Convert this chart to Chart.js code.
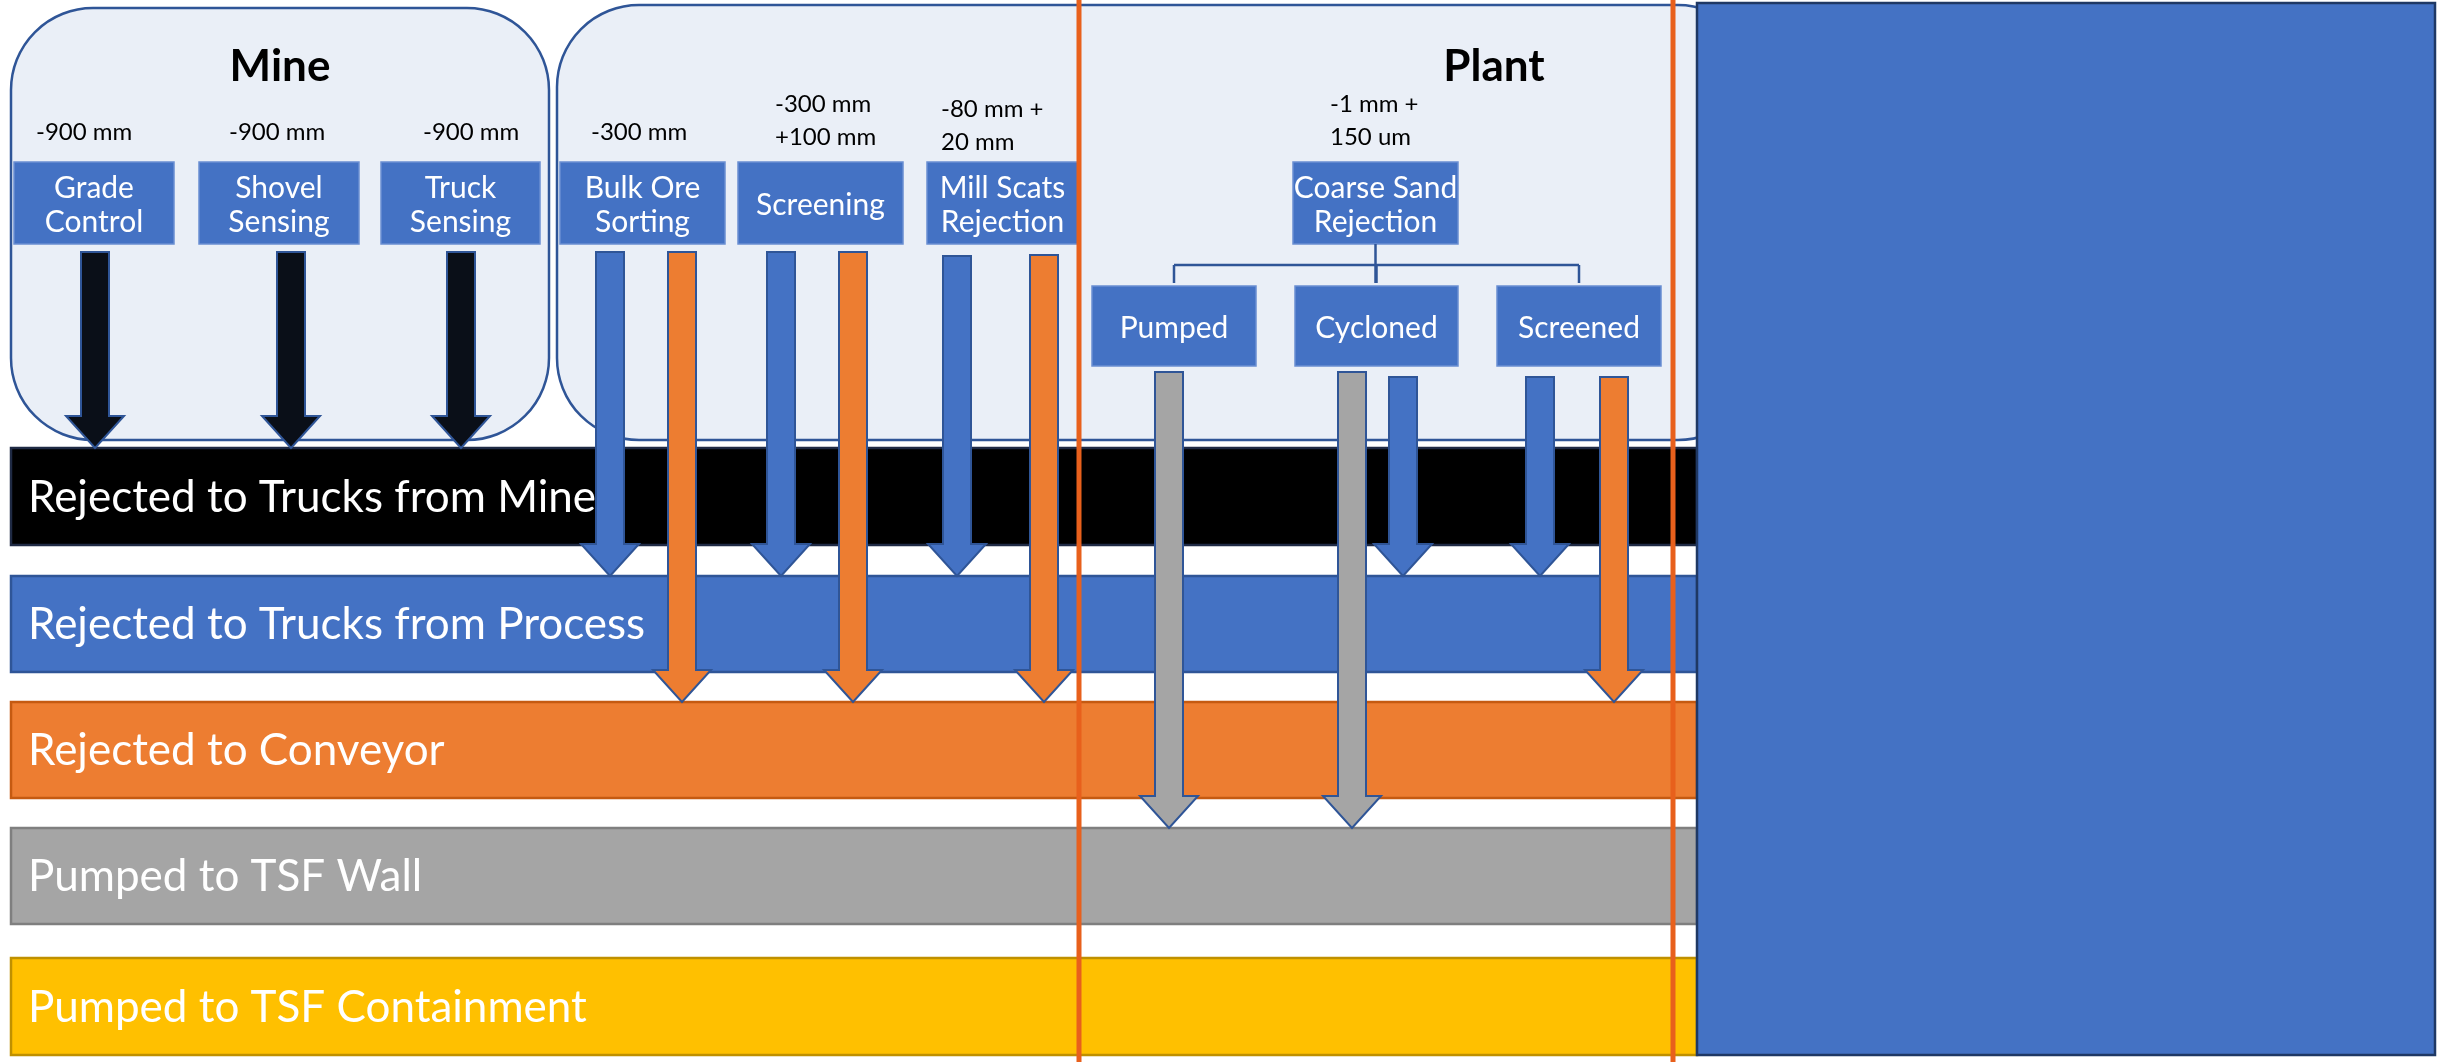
<!DOCTYPE html>
<html>
<head>
<meta charset="utf-8">
<script src="https://cdn.jsdelivr.net/npm/chart.js@4.4.1/dist/chart.umd.min.js"></script>
<style>
  html, body { margin: 0; padding: 0; background: #fff; overflow: hidden; }
  canvas { display: block; }
</style>
</head>
<body>
<canvas id="graph" width="2440" height="1062"></canvas>
<script>
// diagram units: x 0..2440, y 0..1062 (top down)

// groups (rounded panels)
const groupNames = ['Mine', 'Plant'];
const groupLeft = [11, 557];
const groupRight = [549, 1760];
const groupTop = [8, 5];
const groupBottom = [440, 440];
const groupTitleX = [280, 1494];

// sorting steps
const stepNames = [
  ['Grade', 'Control'], ['Shovel', 'Sensing'], ['Truck', 'Sensing'],
  ['Bulk Ore', 'Sorting'], ['Screening'], ['Mill Scats', 'Rejection'],
  ['Coarse Sand', 'Rejection'],
  ['Pumped'], ['Cycloned'], ['Screened']
];
const stepLeft = [14, 199, 381, 560, 738, 927, 1293, 1092, 1295, 1497];
const stepRight = [174, 359, 540, 725, 903, 1078, 1458, 1256, 1458, 1661];
const stepTop = [162, 162, 162, 162, 162, 162, 162, 286, 286, 286];
const stepBottom = [244, 244, 244, 244, 244, 244, 244, 366, 366, 366];

// particle size labels
const sizeLabels = [
  ['-900 mm'], ['-900 mm'], ['-900 mm'], ['-300 mm'],
  ['-300 mm', '+100 mm'], ['-80 mm +', '20 mm'], ['-1 mm +', '150 um']
];
const sizeX = [36, 229, 423, 591, 775, 941, 1330];
const sizeY = [132, 132, 132, 132, 104, 109, 104];

// destinations
const bandNames = [
  'Rejected to Trucks from Mine',
  'Rejected to Trucks from Process',
  'Rejected to Conveyor',
  'Pumped to TSF Wall',
  'Pumped to TSF Containment'
];
const bandTop = [448, 576, 702, 828, 958];
const bandBottom = [545, 672, 798, 924, 1055];

// flows: arrow centre, start and destination band
const flowX = [95, 291, 461, 610, 682, 781, 853, 957, 1044, 1169, 1352, 1403, 1540, 1614];
const flowTop = [252, 252, 252, 252, 252, 252, 252, 256, 255, 372, 372, 377, 377, 377];
const flowTo = [0, 0, 0, 1, 2, 1, 2, 1, 2, 3, 3, 1, 1, 2];

// splitter under Coarse Sand Rejection
const splitFrom = 6;
const splitTo = [7, 8, 9];

const bandColors = ['#000000', '#4472C4', '#ED7D31', '#A5A5A5', '#FFC000'];
const bandEdges = ['#1F2A44', '#2F5597', '#C55A11', '#7F7F7F', '#BF9000'];
const arrowColors = ['#0A0F18', '#4472C4', '#ED7D31', '#A5A5A5', '#FFC000'];
const FONT = 'Lato, "Open Sans", sans-serif';

function roundRect(c, x0, y0, x1, y1, r) {
  c.beginPath();
  c.moveTo(x0 + r, y0);
  c.lineTo(x1 - r, y0);
  c.arcTo(x1, y0, x1, y0 + r, r);
  c.lineTo(x1, y1 - r);
  c.arcTo(x1, y1, x1 - r, y1, r);
  c.lineTo(x0 + r, y1);
  c.arcTo(x0, y1, x0, y1 - r, r);
  c.lineTo(x0, y0 + r);
  c.arcTo(x0, y0, x0 + r, y0, r);
  c.closePath();
}

const diagram = {
  id: 'diagram',
  afterDraw(chart) {
    let c = chart.ctx;
    let sx = chart.scales.x, sy = chart.scales.y;
    let X = v => sx.getPixelForValue(v);
    let Y = v => sy.getPixelForValue(v);
    let W = v => X(v) - X(0);

    c.save();
    c.fillStyle = '#ffffff';
    c.fillRect(0, 0, chart.width, chart.height);

    // panels
    groupNames.forEach((name, i) => {
      roundRect(c, X(groupLeft[i]), Y(groupTop[i]), X(groupRight[i]), Y(groupBottom[i]), W(82));
      c.fillStyle = '#EAEFF7';
      c.fill();
      c.lineWidth = 2.5;
      c.strokeStyle = '#2F5597';
      c.stroke();
      c.fillStyle = '#000';
      c.font = 'bold 44px ' + FONT;
      c.textAlign = 'center';
      c.textBaseline = 'middle';
      c.fillText(name, X(groupTitleX[i]), Y(67));
    });

    // size labels
    c.font = '24px ' + FONT;
    c.textAlign = 'left';
    c.fillStyle = '#000';
    sizeLabels.forEach((lines, i) => {
      lines.forEach((t, j) => c.fillText(t, X(sizeX[i]), Y(sizeY[i] + j * 33)));
    });

    // step boxes
    stepNames.forEach((lines, i) => {
      let x0 = X(stepLeft[i]), x1 = X(stepRight[i]);
      let y0 = Y(stepTop[i]), y1 = Y(stepBottom[i]);
      c.fillStyle = '#4472C4';
      c.fillRect(x0, y0, x1 - x0, y1 - y0);
      c.lineWidth = 1.5;
      c.strokeStyle = '#6A8FD2';
      c.strokeRect(x0, y0, x1 - x0, y1 - y0);
      c.fillStyle = '#fff';
      c.font = '30px ' + FONT;
      c.textAlign = 'center';
      let cy = (y0 + y1) / 2 + 2 - (lines.length - 1) * 17;
      lines.forEach((t, j) => c.fillText(t, (x0 + x1) / 2, cy + j * 34));
    });

    // splitter lines
    let fx = (stepLeft[splitFrom] + stepRight[splitFrom]) / 2;
    let midY = 265;
    c.strokeStyle = '#2F5597';
    c.lineWidth = 2.5;
    c.beginPath();
    c.moveTo(X(fx), Y(stepBottom[splitFrom]));
    c.lineTo(X(fx), Y(stepTop[splitTo[1]] - 3));
    let xs = splitTo.map(k => (stepLeft[k] + stepRight[k]) / 2);
    c.moveTo(X(xs[0]), Y(midY));
    c.lineTo(X(xs[xs.length - 1]), Y(midY));
    xs.forEach(x => {
      c.moveTo(X(x), Y(midY));
      c.lineTo(X(x), Y(stepTop[splitTo[0]] - 3));
    });
    c.stroke();

    // destination bands
    bandNames.forEach((name, i) => {
      let y0 = Y(bandTop[i]), y1 = Y(bandBottom[i]);
      c.fillStyle = bandColors[i];
      c.fillRect(X(11), y0, X(1697) - X(11), y1 - y0);
      c.lineWidth = 2.5;
      c.strokeStyle = bandEdges[i];
      c.strokeRect(X(11), y0, X(1697) - X(11), y1 - y0);
      c.fillStyle = '#fff';
      c.font = '44px ' + FONT;
      c.textAlign = 'left';
      c.fillText(name, X(28), (y0 + y1) / 2 + 1);
    });

    // flow arrows
    let shaft = 28, head = 58, headLen = 32;
    flowX.forEach((x, i) => {
      let b = flowTo[i];
      let tip = Y(bandTop[b]);
      let hs = tip - (Y(headLen) - Y(0));
      let cx = X(x), top = Y(flowTop[i]);
      c.beginPath();
      c.moveTo(cx - W(shaft) / 2, top);
      c.lineTo(cx - W(shaft) / 2, hs);
      c.lineTo(cx - W(head) / 2, hs);
      c.lineTo(cx, tip);
      c.lineTo(cx + W(head) / 2, hs);
      c.lineTo(cx + W(shaft) / 2, hs);
      c.lineTo(cx + W(shaft) / 2, top);
      c.closePath();
      c.fillStyle = arrowColors[b];
      c.fill();
      c.lineWidth = 2;
      c.strokeStyle = '#2F5597';
      c.stroke();
    });

    // covering box on the right
    c.fillStyle = '#4472C4';
    c.fillRect(X(1697), Y(3), X(2435) - X(1697), Y(1055) - Y(3));
    c.lineWidth = 2.5;
    c.strokeStyle = '#1F3864';
    c.strokeRect(X(1697), Y(3), X(2435) - X(1697), Y(1055) - Y(3));

    // orange frame lines
    c.strokeStyle = '#E8601C';
    c.lineWidth = W(5);
    [1079, 1673].forEach(x => {
      c.beginPath();
      c.moveTo(X(x), Y(0));
      c.lineTo(X(x), Y(1062));
      c.stroke();
    });
    c.restore();
  }
};

let ctx = document.getElementById('graph').getContext('2d');
let flowChart = new Chart(ctx, {
  type: 'scatter',
  data: { datasets: [] },
  options: {
    responsive: false,
    animation: false,
    devicePixelRatio: 1,
    events: [],
    layout: { padding: 0 },
    plugins: { legend: { display: false }, tooltip: { enabled: false } },
    scales: {
      x: { type: 'linear', min: 0, max: 2440, display: false },
      y: { type: 'linear', min: 0, max: 1062, reverse: true, display: false }
    }
  },
  plugins: [diagram]
});
</script>
</body>
</html>
